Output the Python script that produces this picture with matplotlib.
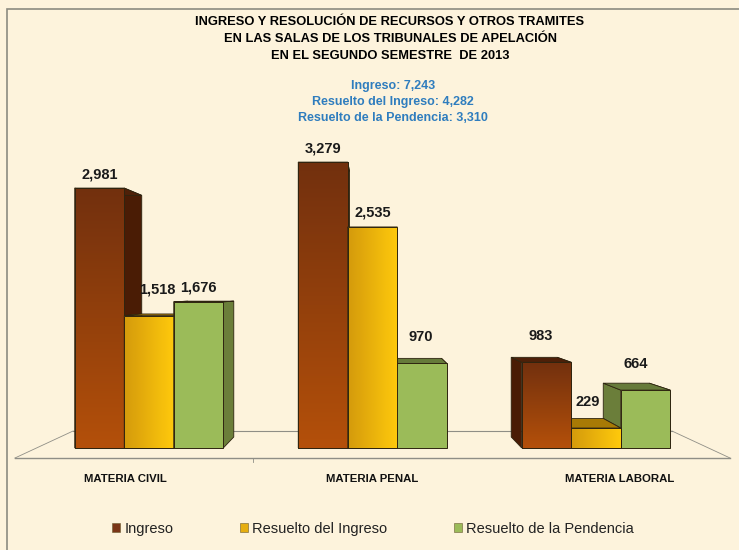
import numpy as np
import matplotlib.pyplot as plt
from matplotlib import font_manager
from matplotlib.patches import Polygon, Rectangle
from matplotlib.colors import LinearSegmentedColormap

# datos
categorias = ['MATERIA CIVIL', 'MATERIA PENAL', 'MATERIA LABORAL']
series = ['Ingreso', 'Resuelto del Ingreso', 'Resuelto de la Pendencia']
ingreso = [2981, 3279, 983]
resuelto_ingreso = [1518, 2535, 229]
resuelto_pendencia = [1676, 970, 664]
titulo = ['INGRESO Y RESOLUCIÓN DE RECURSOS Y OTROS TRAMITES',
          'EN LAS SALAS DE LOS TRIBUNALES DE APELACIÓN',
          'EN EL SEGUNDO SEMESTRE  DE 2013']

valores = [ingreso, resuelto_ingreso, resuelto_pendencia]

# fuentes
nombres = {f.name for f in font_manager.fontManager.ttflist}
narrow = 'Liberation Sans Narrow' if 'Liberation Sans Narrow' in nombres else 'Liberation Sans'
plt.rcParams['font.family'] = ['Liberation Sans', 'DejaVu Sans']

FONDO = '#FDF3DC'
W, H = 739, 550
PX_X = 223.5      # pixeles por categoria
PX_Y = 0.0872     # pixeles por unidad
X0_PX, Y0_PX = 149, 448

# perspectiva (punto de fuga y profundidad)
VX, VY = 1.0, 1790
S_BARRA = 0.9295
S_PISO = 0.837
PISO_FRENTE = -115
ANCHO = 0.2215

fig = plt.figure(figsize=(W / 100, H / 100), dpi=100, facecolor=FONDO)
ax = fig.add_axes([0, 0, 1, 1])
ax.set_axis_off()
ax.set_facecolor(FONDO)

# marco
fig.patches.append(Rectangle((7 / W, -0.1), 1.2, 1.1 - 9 / H, transform=fig.transFigure,
                             fill=False, edgecolor='#8c8b80', linewidth=1.2))


def fondo_punto(x, y, s):
    return VX + s * (x - VX), VY + s * (y - VY)


# piso
fx = [-0.6, 2.6]
bx = [fondo_punto(x, PISO_FRENTE, S_PISO) for x in fx]
gris = '#8f8e86'
ax.plot(fx, [PISO_FRENTE, PISO_FRENTE], color=gris, lw=1.0, zorder=1)
ax.plot([fx[0], bx[0][0]], [PISO_FRENTE, bx[0][1]], color=gris, lw=0.6, zorder=1)
ax.plot([fx[1], bx[1][0]], [PISO_FRENTE, bx[1][1]], color=gris, lw=0.6, zorder=1)
ax.plot([bx[0][0], bx[1][0]], [bx[0][1], bx[1][1]], color=gris, lw=0.8, zorder=1)
tx = VX + (1.6 / 1.5) * (0.5 - VX)
ax.plot([tx, tx], [PISO_FRENTE, PISO_FRENTE - 50], color=gris, lw=0.6, zorder=1)

estilos = [
    dict(frente=('#B4500A', '#72300E'), lado='#4A1C05', techo='#4E2008', dir='v'),
    dict(frente=('#D49A0C', '#FFCA0C'), lado='#B08400', techo='#A87A05', dir='h'),
    dict(frente=('#9BBB59', '#9BBB59'), lado='#6B7E3A', techo='#667A3A', dir=None),
]
borde = '#2e2410'

x = np.arange(len(categorias))
barras = []
for j, vals in enumerate(valores):
    pos = x + (j - 1) * ANCHO
    cont = ax.bar(pos, vals, width=ANCHO, color=estilos[j]['frente'][0],
                  edgecolor=borde, linewidth=0.7, label=series[j])
    for i, p in enumerate(cont.patches):
        barras.append((j, i, pos[i], vals[i], p))

# orden de dibujo: primero las barras mas lejanas del punto de fuga
barras.sort(key=lambda b: -abs(b[2] - VX))
for k, (j, i, cx, h, p) in enumerate(barras):
    z = 2 + k
    e = estilos[j]
    x0, x1 = cx - ANCHO / 2, cx + ANCHO / 2
    caras = []
    for xe in (x0, x1):
        a = fondo_punto(xe, 0, S_BARRA)
        b = fondo_punto(xe, h, S_BARRA)
        caras.append(([(xe, 0), (xe, h), b, a], e['lado']))
    t0 = fondo_punto(x0, h, S_BARRA)
    t1 = fondo_punto(x1, h, S_BARRA)
    caras.append(([(x0, h), (x1, h), t1, t0], e['techo']))
    for pts, c in caras:
        ax.add_patch(Polygon(pts, closed=True, facecolor=c, edgecolor=borde,
                             linewidth=0.6, zorder=z))
    p.set_zorder(z + 0.3)
    if e['dir'] is not None:
        cmap = LinearSegmentedColormap.from_list('g', list(e['frente']))
        if e['dir'] == 'v':
            grad = np.linspace(0, 1, 256).reshape(-1, 1)
        else:
            grad = np.linspace(0, 1, 256).reshape(1, -1)
        im = ax.imshow(grad, extent=[x0, x1, 0, h], origin='lower', aspect='auto',
                       cmap=cmap, interpolation='bicubic', zorder=z + 0.4)
        im.set_clip_path(p)
        ax.add_patch(Rectangle((x0, 0), ANCHO, h, fill=False, edgecolor=borde,
                               linewidth=0.7, zorder=z + 0.5))

    # etiqueta de valor
    tx, ty = fondo_punto(cx, h, S_BARRA)
    if h < 1600:
        lx = cx + (tx - cx) / 2
        ly = h + 26 / PX_Y
    else:
        lx = cx
        ly = h + 14 / PX_Y
    ax.text(lx, ly, f'{h:,}', ha='center', va='center', fontsize=10.5,
            fontweight='bold', color='#1a1a1a', zorder=50)

# etiquetas de categoria
for i, c in enumerate(categorias):
    lx = VX + 1.105 * (i - VX)
    ax.text(lx, -(479 - Y0_PX) / PX_Y, c, ha='center', va='center', fontsize=8.2,
            fontweight='bold', family=[narrow, 'DejaVu Sans'], color='#111111')

ax.set_xlim(-X0_PX / PX_X, (W - X0_PX) / PX_X)
ax.set_ylim(-(H - Y0_PX) / PX_Y, Y0_PX / PX_Y)

# titulo
for n, linea in enumerate(titulo):
    fig.text(390 / W, 1 - (22 + 17 * n) / H, linea, ha='center', va='center',
             fontsize=9.3, fontweight='bold', family=[narrow, 'DejaVu Sans'])

totales = [f'{series[j]}: {sum(valores[j]):,}' for j in range(3)]
for n, linea in enumerate(totales):
    fig.text(393 / W, 1 - (86 + 16 * n) / H, linea, ha='center', va='center',
             fontsize=9, fontweight='bold', color='#2F7DBE', family=[narrow, 'DejaVu Sans'])

# leyenda
h_ley = [Rectangle((0, 0), 1, 1, facecolor=c, edgecolor='#6a5a30', linewidth=0.4)
         for c in ['#7A3516', '#E6AE10', '#9BBB59']]
fig.legend(h_ley, series, loc='center', bbox_to_anchor=(373 / W, 1 - 529 / H), ncol=3,
           frameon=False, fontsize=10.5, handlelength=0.55, handleheight=0.55,
           handletextpad=0.25, columnspacing=4.6, labelcolor='#222222')

fig.savefig('out.png', dpi=100, facecolor=FONDO)
